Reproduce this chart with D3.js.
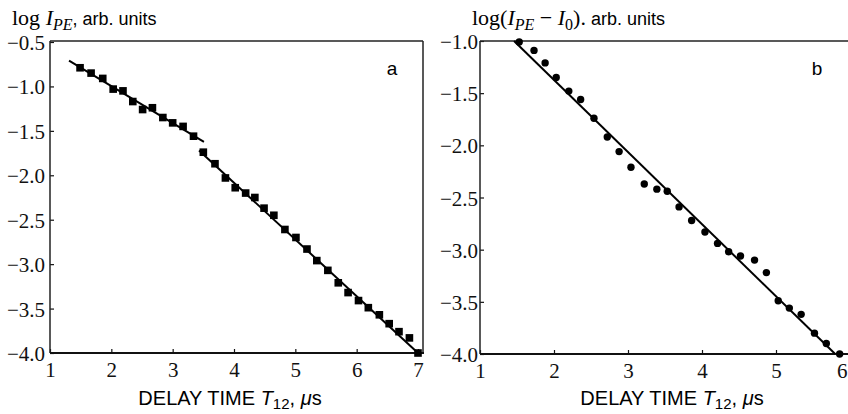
<!DOCTYPE html>
<html>
<head>
<meta charset="utf-8">
<script src="https://cdn.jsdelivr.net/npm/d3@7"></script>
<style>
  html, body { margin: 0; padding: 0; background: #fff; }
  svg { display: block; }
  .tick text { font-family: "Liberation Serif", "Times New Roman", serif; font-size: 21px; fill: #111; }
  .tick line { stroke: #111; stroke-width: 1.2; }
  .sans { font-family: "Liberation Sans", Arial, sans-serif; }
  .serif { font-family: "Liberation Serif", "Times New Roman", serif; }
</style>
</head>
<body>
<svg id="chart" width="848" height="414"></svg>
<script>
// Panel a: photon echo intensity vs delay time
const xTicksA = [1, 2, 3, 4, 5, 6, 7];
const yTicksA = [-0.5, -1.0, -1.5, -2.0, -2.5, -3.0, -3.5, -4.0];
const delayA = [1.49, 1.67, 1.86, 2.03, 2.19, 2.35, 2.51, 2.67, 2.84, 3.00, 3.17, 3.34,
                3.50, 3.69, 3.86, 4.02, 4.19, 4.34, 4.49, 4.65, 4.83, 5.01, 5.19, 5.35,
                5.53, 5.70, 5.86, 6.03, 6.19, 6.37, 6.53, 6.69, 6.86, 7.00];
const logA   = [-0.79, -0.85, -0.91, -1.03, -1.05, -1.17, -1.26, -1.24, -1.35, -1.41, -1.45, -1.56,
                -1.74, -1.87, -2.03, -2.14, -2.20, -2.25, -2.37, -2.45, -2.61, -2.70, -2.83, -2.96,
                -3.07, -3.21, -3.32, -3.41, -3.49, -3.57, -3.67, -3.76, -3.83, -4.00];
// two straight-line fits (short and long delay regions)
const fitUpperX = [1.31, 3.51];
const fitUpperY = [-0.71, -1.625];
const fitLowerX = [3.43, 7.0];
const fitLowerY = [-1.72, -4.0];

// Panel b: background-subtracted intensity
const xTicksB = [1, 2, 3, 4, 5, 6];
const yTicksB = [-1.0, -1.5, -2.0, -2.5, -3.0, -3.5, -4.0];
const delayB = [1.53, 1.73, 1.88, 2.03, 2.20, 2.36, 2.54, 2.72, 2.88, 3.04, 3.22, 3.39, 3.53,
                3.69, 3.86, 4.04, 4.21, 4.36, 4.52, 4.71, 4.87, 5.03, 5.18, 5.34, 5.52, 5.68, 5.86];
const logB   = [-1.01, -1.09, -1.21, -1.35, -1.48, -1.56, -1.74, -1.92, -2.06, -2.21, -2.37, -2.42, -2.44,
                -2.59, -2.72, -2.83, -2.94, -3.02, -3.06, -3.10, -3.22, -3.49, -3.56, -3.62, -3.80, -3.90, -4.00];
const fitBX = [1.46, 5.80];
const fitBY = [-1.0, -4.0];

const svg = d3.select("#chart");
const fmt = d3.format(".1f");

function panel(opt) {
  const g = svg.append("g");
  const x = d3.scaleLinear().domain(opt.xDomain).range(opt.xRange);
  const y = d3.scaleLinear().domain(opt.yDomain).range(opt.yRange);

  // y axis (ticks pointing inward)
  const ya = g.append("g")
    .attr("transform", `translate(${opt.xRange[0]},0)`)
    .call(d3.axisLeft(y).tickValues(opt.yTicks).tickFormat(fmt)
      .tickSizeInner(-4).tickSizeOuter(0).tickPadding(opt.yPad));
  ya.select(".domain").remove();
  ya.selectAll(".tick text").attr("dy", "0.36em");

  // x axis
  const xa = g.append("g")
    .attr("transform", `translate(0,${opt.yRange[0]})`)
    .call(d3.axisBottom(x).tickValues(opt.xTicks).tickFormat(d3.format("d"))
      .tickSizeInner(-4).tickSizeOuter(0).tickPadding(9));
  xa.select(".domain").remove();
  xa.selectAll(".tick text").attr("dy", "0.71em");
  // keep a label that falls on the page edge fully visible
  xa.selectAll(".tick text").filter(d => x(d) > 840)
    .attr("text-anchor", "end").attr("x", d => 847 - x(d));

  // frame
  const [l, r] = [opt.xRange[0], opt.frameRight];
  const [b, t] = [opt.yRange[0], opt.frameTop];
  g.append("line").attr("x1", l).attr("x2", r).attr("y1", t).attr("y2", t)
    .attr("stroke", "#222").attr("stroke-width", 1.5);
  g.append("line").attr("x1", l).attr("x2", l).attr("y1", t).attr("y2", b)
    .attr("stroke", "#222").attr("stroke-width", 1.5);
  if (opt.drawRight) {
    g.append("line").attr("x1", r).attr("x2", r).attr("y1", t).attr("y2", b)
      .attr("stroke", "#222").attr("stroke-width", 1.5);
  }
  g.append("line").attr("x1", l).attr("x2", r + 1).attr("y1", b).attr("y2", b)
    .attr("stroke", "#111").attr("stroke-width", 2);

  // fitted lines
  const line = d3.line().x(d => x(d[0])).y(d => y(d[1]));
  opt.fits.forEach(f => {
    g.append("path").datum(d3.zip(f[0], f[1]))
      .attr("d", line).attr("fill", "none")
      .attr("stroke", "#000").attr("stroke-width", 2);
  });

  // data points
  const pts = d3.zip(opt.xs, opt.ys);
  if (opt.marker === "square") {
    g.selectAll("path.pt").data(pts).join("path").attr("class", "pt")
      .attr("d", d3.symbol(d3.symbolSquare, 58))
      .attr("transform", d => `translate(${x(d[0])},${y(d[1])})`)
      .attr("fill", "#000");
  } else {
    g.selectAll("circle.pt").data(pts).join("circle").attr("class", "pt")
      .attr("cx", d => x(d[0])).attr("cy", d => y(d[1])).attr("r", 3.7)
      .attr("fill", "#000");
  }

  // panel letter
  g.append("text").attr("class", "sans").attr("x", opt.letterX).attr("y", 75)
    .attr("text-anchor", "middle").attr("font-size", 19).text(opt.letter);

  // x axis title
  const xt = g.append("text").attr("class", "sans").attr("x", opt.xTitleX).attr("y", 405)
    .attr("text-anchor", "middle").attr("font-size", 20);
  xt.append("tspan").text("DELAY TIME ");
  xt.append("tspan").attr("font-style", "italic").text("T");
  xt.append("tspan").attr("font-size", 15).attr("dy", 4).text("12");
  xt.append("tspan").attr("dy", -4).text(", ");
  xt.append("tspan").attr("font-style", "italic").text("\u03bc");
  xt.append("tspan").text("s");
  return g;
}

panel({
  xDomain: [1, 7], xRange: [50, 418],
  yDomain: [-4, -0.5], yRange: [353, 42],
  frameRight: 423, frameTop: 41, drawRight: true,
  xTicks: xTicksA, yTicks: yTicksA, yPad: 5,
  xs: delayA, ys: logA, marker: "square",
  fits: [[fitUpperX, fitUpperY], [fitLowerX, fitLowerY]],
  letter: "a", letterX: 392, xTitleX: 230
});

panel({
  xDomain: [1, 6], xRange: [480, 850],
  yDomain: [-4, -1], yRange: [354, 41],
  frameRight: 852, frameTop: 41, drawRight: false,
  xTicks: xTicksB, yTicks: yTicksB, yPad: 2,
  xs: delayB, ys: logB, marker: "circle",
  fits: [[fitBX, fitBY]],
  letter: "b", letterX: 817, xTitleX: 672
});

// y axis titles
const ta = svg.append("text").attr("x", 12).attr("y", 25);
ta.append("tspan").attr("class", "serif").attr("font-size", 22).text("log ");
ta.append("tspan").attr("class", "serif").attr("font-size", 22).attr("font-style", "italic").text("I");
ta.append("tspan").attr("class", "serif").attr("font-size", 16).attr("font-style", "italic").attr("dy", 5).text("PE");
ta.append("tspan").attr("class", "sans").attr("font-size", 18).attr("dy", -5).text(", arb. units");

const tb = svg.append("text").attr("x", 472).attr("y", 25);
tb.append("tspan").attr("class", "serif").attr("font-size", 22).text("log(");
tb.append("tspan").attr("class", "serif").attr("font-size", 22).attr("font-style", "italic").text("I");
tb.append("tspan").attr("class", "serif").attr("font-size", 16).attr("font-style", "italic").attr("dy", 5).text("PE");
tb.append("tspan").attr("class", "serif").attr("font-size", 22).attr("dy", -5).text(" \u2212 ");
tb.append("tspan").attr("class", "serif").attr("font-size", 22).attr("font-style", "italic").text("I");
tb.append("tspan").attr("class", "serif").attr("font-size", 16).attr("dy", 5).text("0");
tb.append("tspan").attr("class", "serif").attr("font-size", 22).attr("dy", -5).text(").");
tb.append("tspan").attr("class", "sans").attr("font-size", 18).text(" arb. units");
</script>
</body>
</html>
